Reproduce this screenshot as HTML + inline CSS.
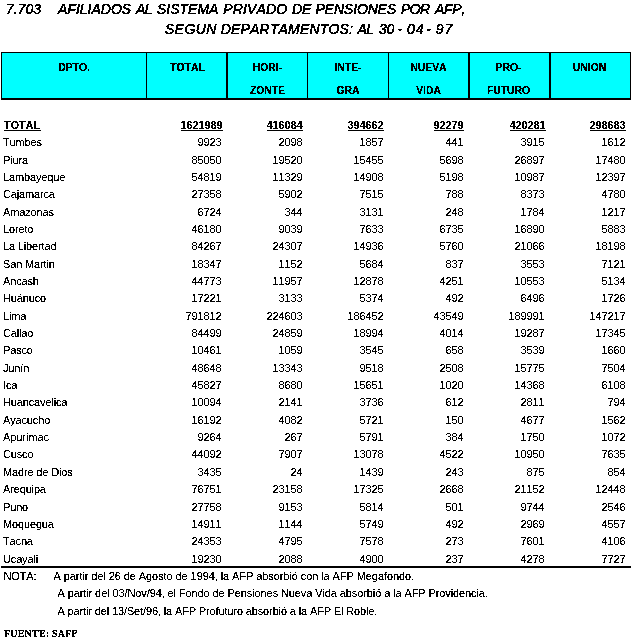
<!DOCTYPE html>
<html><head><meta charset="utf-8"><title>7.703 AFILIADOS AL SISTEMA PRIVADO DE PENSIONES POR AFP</title>
<style>
html,body{margin:0;padding:0;background:#fff;}
body{width:632px;height:643px;position:relative;overflow:hidden;font-family:"Liberation Sans",Arial,sans-serif;color:#000;font-kerning:none;}
.tx{position:absolute;left:0;top:0;width:632px;height:643px;}
#tr{filter:url(#na);}
#tb{filter:url(#nb);}
#tf{filter:url(#nc);}
.t{position:absolute;white-space:pre;line-height:14px;height:14px;font-size:11px;letter-spacing:-0.15px;}
.n{text-align:right;letter-spacing:-0.1177px;}
.b{font-weight:bold;}
.u{text-decoration:underline;}
.ttl{position:absolute;white-space:pre;font-style:italic;font-size:14px;line-height:16px;height:16px;}
.ttl span{position:absolute;-webkit-text-stroke:0.3px #000;}
.hd{position:absolute;background:#00ffff;}
.ln{position:absolute;background:#000;}
.h{position:absolute;white-space:pre;font-weight:bold;font-size:11px;line-height:14px;height:14px;text-align:center;letter-spacing:0;transform:scaleX(0.94);transform-origin:center;-webkit-text-stroke:0.1px #000;}
.f{position:absolute;white-space:pre;font-family:"Liberation Serif","Times New Roman",serif;font-weight:bold;font-size:10px;line-height:12px;height:12px;letter-spacing:0.2px;}
</style></head>
<body>
<svg width="0" height="0" style="position:absolute"><defs><filter id="na" x="0" y="0" width="100%" height="100%" color-interpolation-filters="sRGB"><feComponentTransfer><feFuncA type="discrete" tableValues="0 0 1 1 1"/></feComponentTransfer></filter><filter id="nb" x="0" y="0" width="100%" height="100%" color-interpolation-filters="sRGB"><feComponentTransfer><feFuncA type="discrete" tableValues="0 0 1 1 1"/></feComponentTransfer></filter><filter id="nc" x="0" y="0" width="100%" height="100%" color-interpolation-filters="sRGB"><feComponentTransfer><feFuncA type="discrete" tableValues="0 1 1"/></feComponentTransfer></filter></defs></svg>
<div class="hd" style="left:1px;top:52px;width:630px;height:46px;"></div>
<div class="ln" style="left:1px;top:52px;width:630px;height:1px;"></div>
<div class="ln" style="left:1px;top:98px;width:630px;height:2px;"></div>
<div class="ln" style="left:1px;top:52px;width:1px;height:47px;"></div>
<div class="ln" style="left:146px;top:52px;width:1px;height:47px;"></div>
<div class="ln" style="left:226px;top:52px;width:2px;height:47px;"></div>
<div class="ln" style="left:307px;top:52px;width:1px;height:47px;"></div>
<div class="ln" style="left:388px;top:52px;width:1px;height:47px;"></div>
<div class="ln" style="left:468px;top:52px;width:2px;height:47px;"></div>
<div class="ln" style="left:549px;top:52px;width:2px;height:47px;"></div>
<div class="ln" style="left:630px;top:52px;width:1px;height:47px;"></div>
<div class="ln" style="left:4px;top:130px;width:37px;height:1px;"></div>
<div class="ln" style="left:181px;top:130px;width:42px;height:1px;"></div>
<div class="ln" style="left:267px;top:130px;width:36px;height:1px;"></div>
<div class="ln" style="left:348px;top:130px;width:36px;height:1px;"></div>
<div class="ln" style="left:434px;top:130px;width:30px;height:1px;"></div>
<div class="ln" style="left:510px;top:130px;width:36px;height:1px;"></div>
<div class="ln" style="left:590px;top:130px;width:36px;height:1px;"></div>
<div class="ln" style="left:1px;top:566px;width:630px;height:2px;"></div>
<div class="tx" id="tr">
<div class="ttl" style="left:0;top:1px;width:632px;"><span style="left:6.0px;letter-spacing:0.00px">7.703</span><span style="left:58.0px;letter-spacing:0.00px">AFILIADOS</span><span style="left:136.0px;letter-spacing:-0.50px">AL</span><span style="left:157.0px;letter-spacing:0.00px">SISTEMA</span><span style="left:223.3px;letter-spacing:0.12px">PRIVADO</span><span style="left:292.0px;letter-spacing:0.00px">DE</span><span style="left:315.4px;letter-spacing:-0.09px">PENSIONES</span><span style="left:401.0px;letter-spacing:-0.60px">POR</span><span style="left:435.0px;letter-spacing:-0.33px">AFP,</span></div>
<div class="ttl" style="left:0;top:21px;width:632px;"><span style="left:165.0px;letter-spacing:0.38px">SEGUN</span><span style="left:220.8px;letter-spacing:0.17px">DEPARTAMENTOS:</span><span style="left:357.5px;letter-spacing:-0.60px">AL</span><span style="left:379.0px;letter-spacing:-0.30px">30</span><span style="left:397.5px;letter-spacing:0.00px">-</span><span style="left:407.0px;letter-spacing:0.90px">04</span><span style="left:426.2px;letter-spacing:0.00px">-</span><span style="left:435.8px;letter-spacing:0.90px">97</span></div>
<div class="t" style="left:3px;top:135px;">Tumbes</div>
<div class="t n" style="left:161.5px;width:60px;top:135px;">9923</div>
<div class="t n" style="left:242.5px;width:60px;top:135px;">2098</div>
<div class="t n" style="left:323.5px;width:60px;top:135px;">1857</div>
<div class="t n" style="left:403.5px;width:60px;top:135px;">441</div>
<div class="t n" style="left:484.5px;width:60px;top:135px;">3915</div>
<div class="t n" style="left:565.5px;width:60px;top:135px;">1612</div>
<div class="t" style="left:3px;top:153px;">Piura</div>
<div class="t n" style="left:161.5px;width:60px;top:153px;">85050</div>
<div class="t n" style="left:242.5px;width:60px;top:153px;">19520</div>
<div class="t n" style="left:323.5px;width:60px;top:153px;">15455</div>
<div class="t n" style="left:403.5px;width:60px;top:153px;">5698</div>
<div class="t n" style="left:484.5px;width:60px;top:153px;">26897</div>
<div class="t n" style="left:565.5px;width:60px;top:153px;">17480</div>
<div class="t" style="left:3px;top:170px;">Lambayeque</div>
<div class="t n" style="left:161.5px;width:60px;top:170px;">54819</div>
<div class="t n" style="left:242.5px;width:60px;top:170px;">11329</div>
<div class="t n" style="left:323.5px;width:60px;top:170px;">14908</div>
<div class="t n" style="left:403.5px;width:60px;top:170px;">5198</div>
<div class="t n" style="left:484.5px;width:60px;top:170px;">10987</div>
<div class="t n" style="left:565.5px;width:60px;top:170px;">12397</div>
<div class="t" style="left:3px;top:187px;">Cajamarca</div>
<div class="t n" style="left:161.5px;width:60px;top:187px;">27358</div>
<div class="t n" style="left:242.5px;width:60px;top:187px;">5902</div>
<div class="t n" style="left:323.5px;width:60px;top:187px;">7515</div>
<div class="t n" style="left:403.5px;width:60px;top:187px;">788</div>
<div class="t n" style="left:484.5px;width:60px;top:187px;">8373</div>
<div class="t n" style="left:565.5px;width:60px;top:187px;">4780</div>
<div class="t" style="left:3px;top:205px;">Amazonas</div>
<div class="t n" style="left:161.5px;width:60px;top:205px;">6724</div>
<div class="t n" style="left:242.5px;width:60px;top:205px;">344</div>
<div class="t n" style="left:323.5px;width:60px;top:205px;">3131</div>
<div class="t n" style="left:403.5px;width:60px;top:205px;">248</div>
<div class="t n" style="left:484.5px;width:60px;top:205px;">1784</div>
<div class="t n" style="left:565.5px;width:60px;top:205px;">1217</div>
<div class="t" style="left:3px;top:222px;">Loreto</div>
<div class="t n" style="left:161.5px;width:60px;top:222px;">46180</div>
<div class="t n" style="left:242.5px;width:60px;top:222px;">9039</div>
<div class="t n" style="left:323.5px;width:60px;top:222px;">7633</div>
<div class="t n" style="left:403.5px;width:60px;top:222px;">6735</div>
<div class="t n" style="left:484.5px;width:60px;top:222px;">16890</div>
<div class="t n" style="left:565.5px;width:60px;top:222px;">5883</div>
<div class="t" style="left:3px;top:239px;">La Libertad</div>
<div class="t n" style="left:161.5px;width:60px;top:239px;">84267</div>
<div class="t n" style="left:242.5px;width:60px;top:239px;">24307</div>
<div class="t n" style="left:323.5px;width:60px;top:239px;">14936</div>
<div class="t n" style="left:403.5px;width:60px;top:239px;">5760</div>
<div class="t n" style="left:484.5px;width:60px;top:239px;">21066</div>
<div class="t n" style="left:565.5px;width:60px;top:239px;">18198</div>
<div class="t" style="left:3px;top:257px;">San Martin</div>
<div class="t n" style="left:161.5px;width:60px;top:257px;">18347</div>
<div class="t n" style="left:242.5px;width:60px;top:257px;">1152</div>
<div class="t n" style="left:323.5px;width:60px;top:257px;">5684</div>
<div class="t n" style="left:403.5px;width:60px;top:257px;">837</div>
<div class="t n" style="left:484.5px;width:60px;top:257px;">3553</div>
<div class="t n" style="left:565.5px;width:60px;top:257px;">7121</div>
<div class="t" style="left:3px;top:274px;">Ancash</div>
<div class="t n" style="left:161.5px;width:60px;top:274px;">44773</div>
<div class="t n" style="left:242.5px;width:60px;top:274px;">11957</div>
<div class="t n" style="left:323.5px;width:60px;top:274px;">12878</div>
<div class="t n" style="left:403.5px;width:60px;top:274px;">4251</div>
<div class="t n" style="left:484.5px;width:60px;top:274px;">10553</div>
<div class="t n" style="left:565.5px;width:60px;top:274px;">5134</div>
<div class="t" style="left:3px;top:291px;">Huánuco</div>
<div class="t n" style="left:161.5px;width:60px;top:291px;">17221</div>
<div class="t n" style="left:242.5px;width:60px;top:291px;">3133</div>
<div class="t n" style="left:323.5px;width:60px;top:291px;">5374</div>
<div class="t n" style="left:403.5px;width:60px;top:291px;">492</div>
<div class="t n" style="left:484.5px;width:60px;top:291px;">6496</div>
<div class="t n" style="left:565.5px;width:60px;top:291px;">1726</div>
<div class="t" style="left:3px;top:309px;">Lima</div>
<div class="t n" style="left:161.5px;width:60px;top:309px;">791812</div>
<div class="t n" style="left:242.5px;width:60px;top:309px;">224603</div>
<div class="t n" style="left:323.5px;width:60px;top:309px;">186452</div>
<div class="t n" style="left:403.5px;width:60px;top:309px;">43549</div>
<div class="t n" style="left:484.5px;width:60px;top:309px;">189991</div>
<div class="t n" style="left:565.5px;width:60px;top:309px;">147217</div>
<div class="t" style="left:3px;top:326px;">Callao</div>
<div class="t n" style="left:161.5px;width:60px;top:326px;">84499</div>
<div class="t n" style="left:242.5px;width:60px;top:326px;">24859</div>
<div class="t n" style="left:323.5px;width:60px;top:326px;">18994</div>
<div class="t n" style="left:403.5px;width:60px;top:326px;">4014</div>
<div class="t n" style="left:484.5px;width:60px;top:326px;">19287</div>
<div class="t n" style="left:565.5px;width:60px;top:326px;">17345</div>
<div class="t" style="left:3px;top:343px;">Pasco</div>
<div class="t n" style="left:161.5px;width:60px;top:343px;">10461</div>
<div class="t n" style="left:242.5px;width:60px;top:343px;">1059</div>
<div class="t n" style="left:323.5px;width:60px;top:343px;">3545</div>
<div class="t n" style="left:403.5px;width:60px;top:343px;">658</div>
<div class="t n" style="left:484.5px;width:60px;top:343px;">3539</div>
<div class="t n" style="left:565.5px;width:60px;top:343px;">1660</div>
<div class="t" style="left:3px;top:361px;">Junín</div>
<div class="t n" style="left:161.5px;width:60px;top:361px;">48648</div>
<div class="t n" style="left:242.5px;width:60px;top:361px;">13343</div>
<div class="t n" style="left:323.5px;width:60px;top:361px;">9518</div>
<div class="t n" style="left:403.5px;width:60px;top:361px;">2508</div>
<div class="t n" style="left:484.5px;width:60px;top:361px;">15775</div>
<div class="t n" style="left:565.5px;width:60px;top:361px;">7504</div>
<div class="t" style="left:3px;top:378px;">Ica</div>
<div class="t n" style="left:161.5px;width:60px;top:378px;">45827</div>
<div class="t n" style="left:242.5px;width:60px;top:378px;">8680</div>
<div class="t n" style="left:323.5px;width:60px;top:378px;">15651</div>
<div class="t n" style="left:403.5px;width:60px;top:378px;">1020</div>
<div class="t n" style="left:484.5px;width:60px;top:378px;">14368</div>
<div class="t n" style="left:565.5px;width:60px;top:378px;">6108</div>
<div class="t" style="left:3px;top:395px;">Huancavelica</div>
<div class="t n" style="left:161.5px;width:60px;top:395px;">10094</div>
<div class="t n" style="left:242.5px;width:60px;top:395px;">2141</div>
<div class="t n" style="left:323.5px;width:60px;top:395px;">3736</div>
<div class="t n" style="left:403.5px;width:60px;top:395px;">612</div>
<div class="t n" style="left:484.5px;width:60px;top:395px;">2811</div>
<div class="t n" style="left:565.5px;width:60px;top:395px;">794</div>
<div class="t" style="left:3px;top:413px;">Ayacucho</div>
<div class="t n" style="left:161.5px;width:60px;top:413px;">16192</div>
<div class="t n" style="left:242.5px;width:60px;top:413px;">4082</div>
<div class="t n" style="left:323.5px;width:60px;top:413px;">5721</div>
<div class="t n" style="left:403.5px;width:60px;top:413px;">150</div>
<div class="t n" style="left:484.5px;width:60px;top:413px;">4677</div>
<div class="t n" style="left:565.5px;width:60px;top:413px;">1562</div>
<div class="t" style="left:3px;top:430px;">Apurímac</div>
<div class="t n" style="left:161.5px;width:60px;top:430px;">9264</div>
<div class="t n" style="left:242.5px;width:60px;top:430px;">267</div>
<div class="t n" style="left:323.5px;width:60px;top:430px;">5791</div>
<div class="t n" style="left:403.5px;width:60px;top:430px;">384</div>
<div class="t n" style="left:484.5px;width:60px;top:430px;">1750</div>
<div class="t n" style="left:565.5px;width:60px;top:430px;">1072</div>
<div class="t" style="left:3px;top:447px;">Cusco</div>
<div class="t n" style="left:161.5px;width:60px;top:447px;">44092</div>
<div class="t n" style="left:242.5px;width:60px;top:447px;">7907</div>
<div class="t n" style="left:323.5px;width:60px;top:447px;">13078</div>
<div class="t n" style="left:403.5px;width:60px;top:447px;">4522</div>
<div class="t n" style="left:484.5px;width:60px;top:447px;">10950</div>
<div class="t n" style="left:565.5px;width:60px;top:447px;">7635</div>
<div class="t" style="left:3px;top:465px;">Madre de Dios</div>
<div class="t n" style="left:161.5px;width:60px;top:465px;">3435</div>
<div class="t n" style="left:242.5px;width:60px;top:465px;">24</div>
<div class="t n" style="left:323.5px;width:60px;top:465px;">1439</div>
<div class="t n" style="left:403.5px;width:60px;top:465px;">243</div>
<div class="t n" style="left:484.5px;width:60px;top:465px;">875</div>
<div class="t n" style="left:565.5px;width:60px;top:465px;">854</div>
<div class="t" style="left:3px;top:482px;">Arequipa</div>
<div class="t n" style="left:161.5px;width:60px;top:482px;">76751</div>
<div class="t n" style="left:242.5px;width:60px;top:482px;">23158</div>
<div class="t n" style="left:323.5px;width:60px;top:482px;">17325</div>
<div class="t n" style="left:403.5px;width:60px;top:482px;">2668</div>
<div class="t n" style="left:484.5px;width:60px;top:482px;">21152</div>
<div class="t n" style="left:565.5px;width:60px;top:482px;">12448</div>
<div class="t" style="left:3px;top:500px;">Puno</div>
<div class="t n" style="left:161.5px;width:60px;top:500px;">27758</div>
<div class="t n" style="left:242.5px;width:60px;top:500px;">9153</div>
<div class="t n" style="left:323.5px;width:60px;top:500px;">5814</div>
<div class="t n" style="left:403.5px;width:60px;top:500px;">501</div>
<div class="t n" style="left:484.5px;width:60px;top:500px;">9744</div>
<div class="t n" style="left:565.5px;width:60px;top:500px;">2546</div>
<div class="t" style="left:3px;top:517px;">Moquegua</div>
<div class="t n" style="left:161.5px;width:60px;top:517px;">14911</div>
<div class="t n" style="left:242.5px;width:60px;top:517px;">1144</div>
<div class="t n" style="left:323.5px;width:60px;top:517px;">5749</div>
<div class="t n" style="left:403.5px;width:60px;top:517px;">492</div>
<div class="t n" style="left:484.5px;width:60px;top:517px;">2969</div>
<div class="t n" style="left:565.5px;width:60px;top:517px;">4557</div>
<div class="t" style="left:3px;top:534px;">Tacna</div>
<div class="t n" style="left:161.5px;width:60px;top:534px;">24353</div>
<div class="t n" style="left:242.5px;width:60px;top:534px;">4795</div>
<div class="t n" style="left:323.5px;width:60px;top:534px;">7578</div>
<div class="t n" style="left:403.5px;width:60px;top:534px;">273</div>
<div class="t n" style="left:484.5px;width:60px;top:534px;">7601</div>
<div class="t n" style="left:565.5px;width:60px;top:534px;">4106</div>
<div class="t" style="left:3px;top:552px;">Ucayali</div>
<div class="t n" style="left:161.5px;width:60px;top:552px;">19230</div>
<div class="t n" style="left:242.5px;width:60px;top:552px;">2088</div>
<div class="t n" style="left:323.5px;width:60px;top:552px;">4900</div>
<div class="t n" style="left:403.5px;width:60px;top:552px;">237</div>
<div class="t n" style="left:484.5px;width:60px;top:552px;">4278</div>
<div class="t n" style="left:565.5px;width:60px;top:552px;">7727</div>
<div class="t" style="left:3.5px;top:569px;">NOTA:</div>
<div class="t" style="left:53.5px;top:569px;letter-spacing:-0.08px">A partir del 26 de Agosto de 1994, la AFP absorbió con la AFP Megafondo.</div>
<div class="t" style="left:57.5px;top:586px;letter-spacing:-0.1px">A partir del 03/Nov/94, el Fondo de Pensiones Nueva Vida absorbió a la AFP Providencia.</div>
<div class="t" style="left:57.5px;top:604px;letter-spacing:-0.135px">A partir del 13/Set/96, la AFP Profuturo absorbió a la AFP El Roble.</div>
</div>
<div class="tx" id="tb">
<div class="h" style="left:1.5px;width:144px;top:60px;">DPTO.</div>
<div class="h" style="left:148.0px;width:79px;top:60px;">TOTAL</div>
<div class="h" style="left:227.5px;width:79px;top:60px;">HORI-</div>
<div class="h" style="left:227.5px;width:79px;top:83px;">ZONTE</div>
<div class="h" style="left:308.0px;width:80px;top:60px;">INTE-</div>
<div class="h" style="left:308.0px;width:80px;top:83px;">GRA</div>
<div class="h" style="left:388.5px;width:79px;top:60px;">NUEVA</div>
<div class="h" style="left:388.5px;width:79px;top:83px;">VIDA</div>
<div class="h" style="left:469.0px;width:79px;top:60px;">PRO-</div>
<div class="h" style="left:469.0px;width:79px;top:83px;">FUTURO</div>
<div class="h" style="left:549.5px;width:79px;top:60px;">UNION</div>
<div class="t b" style="left:4px;top:118px;">TOTAL</div>
<div class="t b n" style="left:162.500px;width:60px;top:118px;">1621989</div>
<div class="t b n" style="left:242.500px;width:60px;top:118px;">416084</div>
<div class="t b n" style="left:323.500px;width:60px;top:118px;">394662</div>
<div class="t b n" style="left:403.500px;width:60px;top:118px;">92279</div>
<div class="t b n" style="left:485.500px;width:60px;top:118px;">420281</div>
<div class="t b n" style="left:565.500px;width:60px;top:118px;">298683</div>
</div>
<div class="tx" id="tf">
<div class="f" style="left:4px;top:628px;">FUENTE: SAFP</div>
</div>
</body></html>
